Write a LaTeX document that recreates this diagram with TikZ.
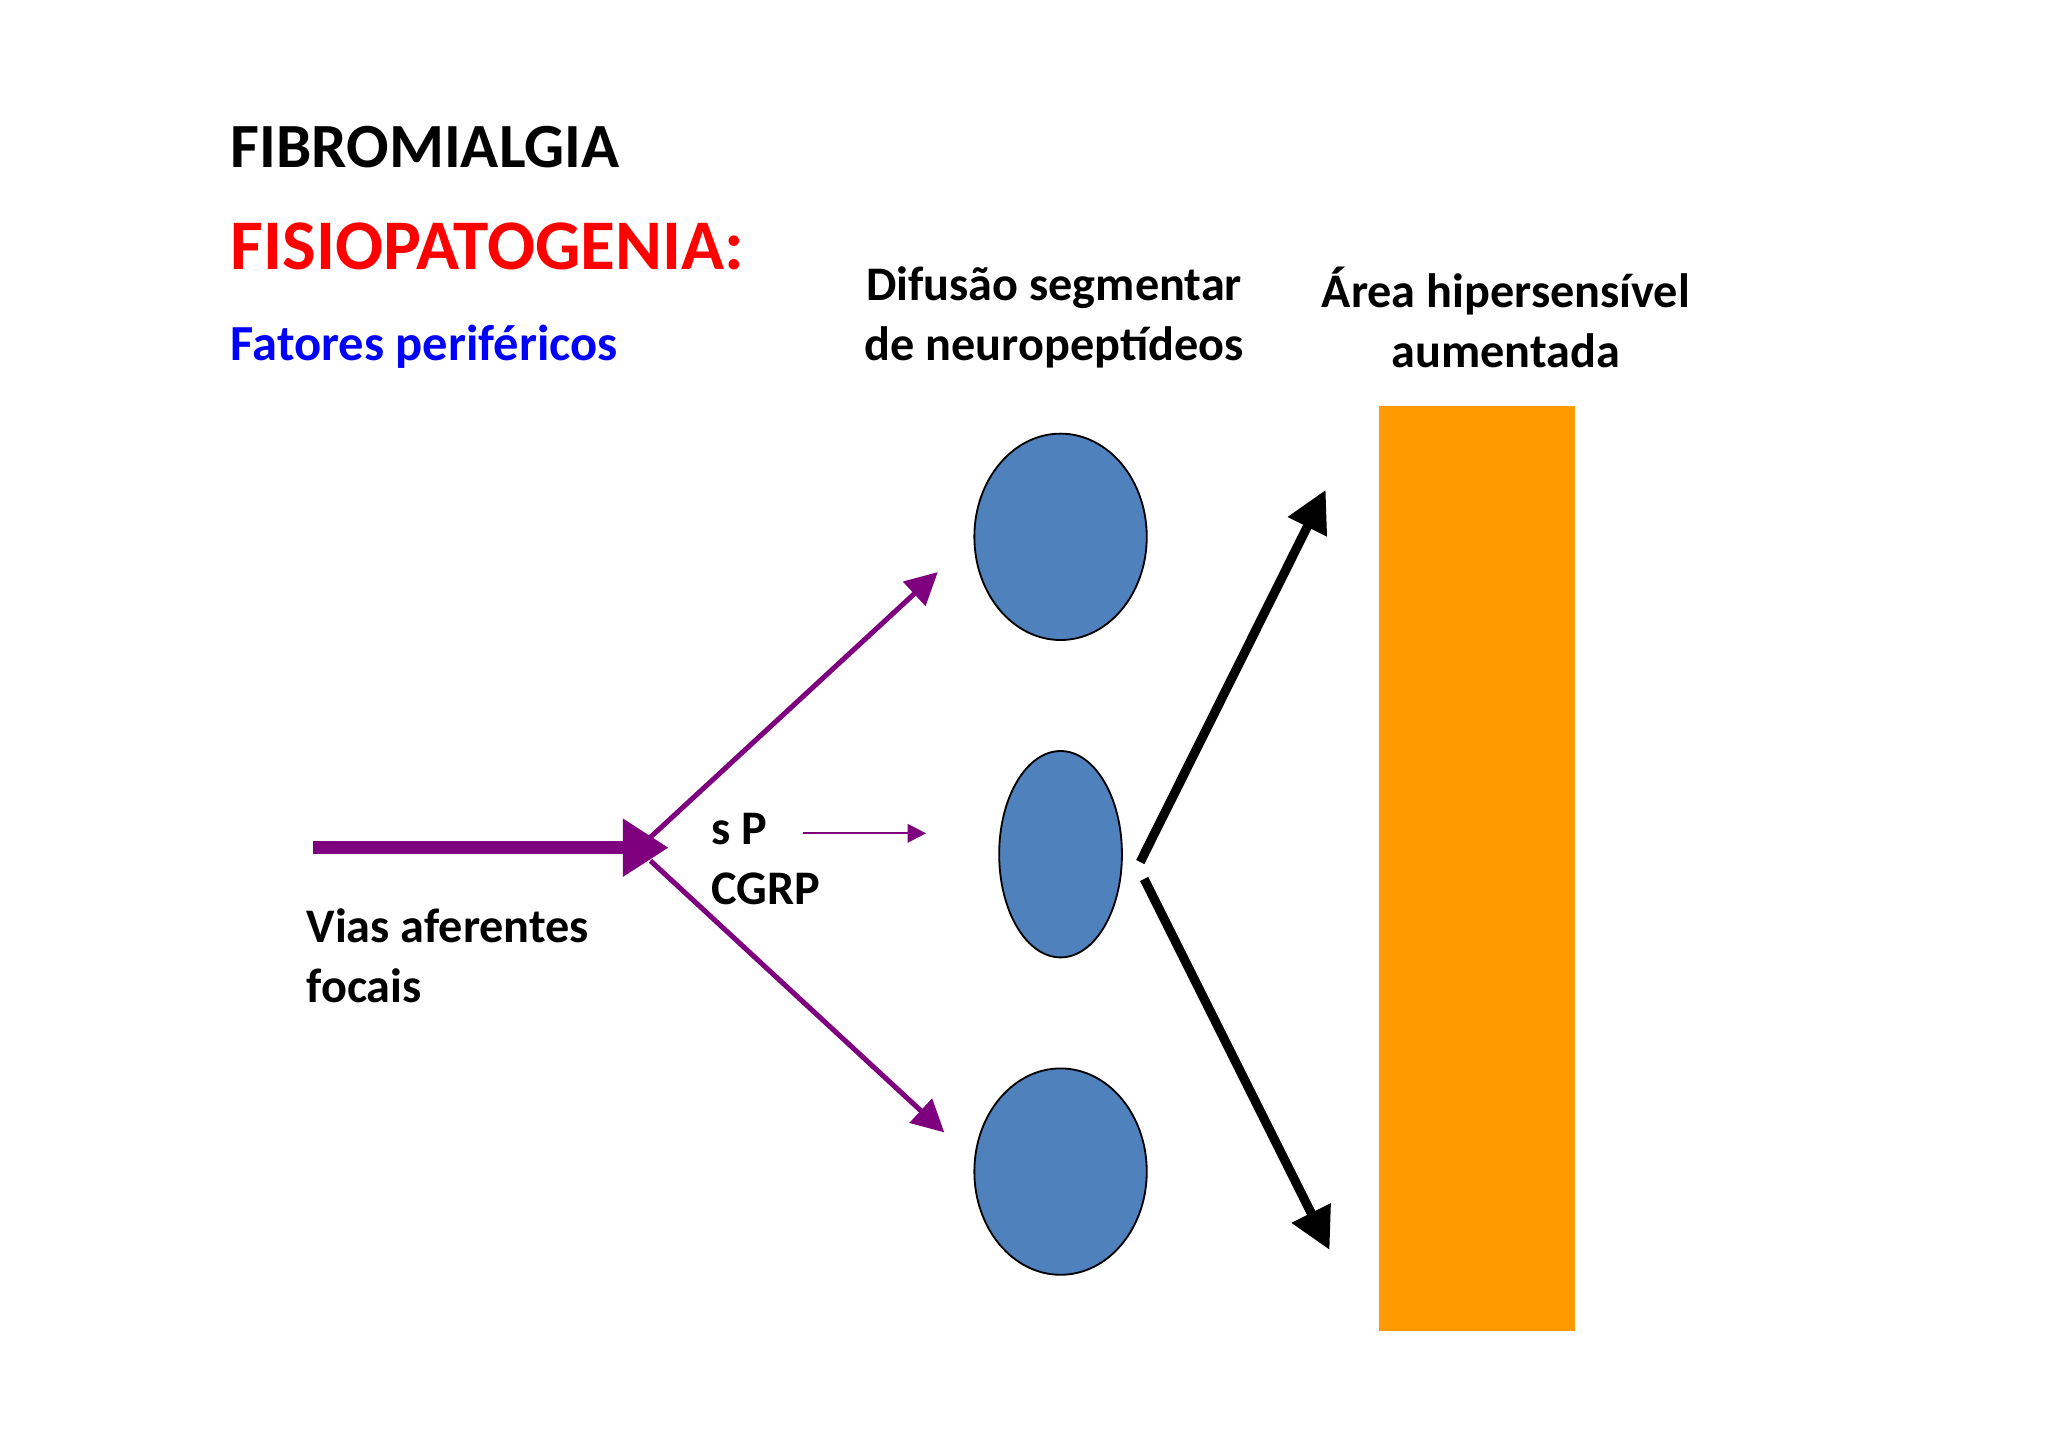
\documentclass[tikz,border=0pt]{standalone}
\usepackage{fontspec}
\setmainfont{Carlito}
\usetikzlibrary{arrows.meta}
\definecolor{purp}{HTML}{7F007F}
\definecolor{blu}{HTML}{4F81BD}
\definecolor{org}{HTML}{FF9A00}
\begin{document}
\begin{tikzpicture}[x=0.01cm,y=-0.01cm,
  lbl/.style={font=\bfseries\fontsize{10.5}{13}\selectfont,align=left,inner sep=0},
  blob/.style={draw=black,line width=0.4pt,fill=blu,ellipse},
  parr/.style={purp,line width=1.1pt,-{Triangle[length=7pt,width=7pt]}}]
\useasboundingbox (0,0) rectangle (1568,1108);
\node[anchor=base west,inner sep=0,font=\bfseries\fontsize{13.7}{16}\selectfont] (t1) at (176,128) {FIBROMIALGIA};
\node[anchor=base west,inner sep=0,text=red,font=\bfseries\fontsize{15.5}{18}\selectfont] (t2) at (176,206) {FISIOPATOGENIA:};
\node[anchor=base west,inner sep=0,text=blue,font=\bfseries\fontsize{11}{13}\selectfont] (t3) at (176,276) {Fatores periféricos};
\node[lbl,align=center] (dif) at (807,243) {Difusão segmentar\\de neuropeptídeos};
\node[lbl,align=center] (area) at (1153,243) {Área hipersensível\\aumentada};
\fill[org] (1056,311) rectangle (1206,1019);
\coordinate (r) at (1056,665);
\draw[fill=blu] (812,411) ellipse [x radius=66,y radius=79];
\draw[fill=blu] (812,654) ellipse [x radius=47,y radius=79];
\draw[fill=blu] (812,897) ellipse [x radius=66,y radius=79];
\coordinate (a0) at (240,649); \coordinate (a1) at (512,649);
\draw[purp,line width=2.8pt,-{Triangle[length=10pt,width=12pt]}] (a0) -- (a1);
\coordinate (b0) at (498,641); \coordinate (b1) at (718,438);
\coordinate (c0) at (498,659); \coordinate (c1) at (723,867);
\draw[parr] (b0) -- (b1);
\draw[parr] (c0) -- (c1);
\coordinate (d0) at (615,638); \coordinate (d1) at (709,638);
\draw[purp,line width=0.5pt,-{Triangle[length=4pt,width=4pt]}] (d0) -- (d1);
\coordinate (e0) at (873,660); \coordinate (e1) at (1015,375);
\coordinate (f0) at (876,673); \coordinate (f1) at (1018,957);
\draw[line width=2pt,-{Triangle[length=9pt,width=9pt]}] (e0) -- (e1);
\draw[line width=2pt,-{Triangle[length=9pt,width=9pt]}] (f0) -- (f1);
\node[lbl,anchor=north west] (sp) at (544,622) {s P\\CGRP};
\node[lbl,anchor=north west] (vias) at (234,695) {Vias aferentes\\focais};
\end{tikzpicture}
\end{document}
